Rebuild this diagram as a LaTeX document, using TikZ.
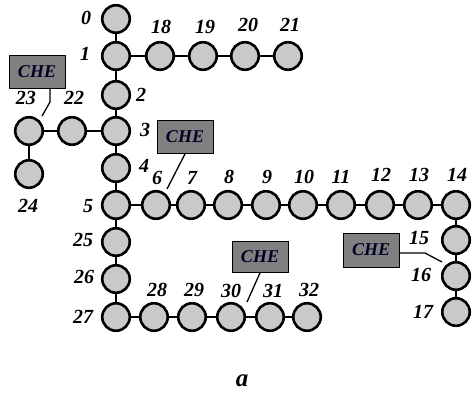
\documentclass[tikz,border=0pt]{standalone}
\usepackage{fontspec}
\setmainfont{Liberation Serif}
\begin{document}
\begin{tikzpicture}[x=1pt,y=-1pt,
  ball/.style={circle,draw=black,line width=2.6pt,fill=black!21,minimum size=27.5pt,inner sep=0pt},
  link/.style={line width=2.4pt},
  lab/.style={font=\fontsize{20}{20}\selectfont\bfseries\itshape,inner sep=0pt},
  che/.style={draw=black,line width=0.9pt,fill=black!50,minimum width=56pt,minimum height=33pt,inner sep=0pt,font=\fontsize{18}{18}\selectfont\bfseries\itshape,text=black!85!blue},
  ptr/.style={line width=1.3pt}]
\useasboundingbox (0,0) rectangle (473,394);
% column
\node[ball] (n0) at (116,19) {};
\node[ball] (n1) at (116,56) {};
\node[ball] (n2) at (116,95) {};
\node[ball] (n3) at (116,131) {};
\node[ball] (n4) at (116,168) {};
\node[ball] (n5) at (116,205) {};
\node[ball] (n25) at (116,242) {};
\node[ball] (n26) at (116,279) {};
\node[ball] (n27) at (116,317) {};
% top row
\node[ball] (n18) at (160,56) {};
\node[ball] (n19) at (203,56) {};
\node[ball] (n20) at (245,56) {};
\node[ball] (n21) at (288,56) {};
% left branch
\node[ball] (n22) at (72,131) {};
\node[ball] (n23) at (29,131) {};
\node[ball] (n24) at (29,174) {};
% middle row
\node[ball] (n6) at (156,205) {};
\node[ball] (n7) at (191,205) {};
\node[ball] (n8) at (228,205) {};
\node[ball] (n9) at (266,205) {};
\node[ball] (n10) at (303,205) {};
\node[ball] (n11) at (341,205) {};
\node[ball] (n12) at (380,205) {};
\node[ball] (n13) at (418,205) {};
\node[ball] (n14) at (456,205) {};
\node[ball] (n15) at (456,240) {};
\node[ball] (n16) at (456,276) {};
\node[ball] (n17) at (456,312) {};
% bottom row
\node[ball] (n28) at (154,317) {};
\node[ball] (n29) at (192,317) {};
\node[ball] (n30) at (231,317) {};
\node[ball] (n31) at (270,317) {};
\node[ball] (n32) at (307,317) {};
% connectors
\draw[link] (n0)--(n1) (n1)--(n2) (n2)--(n3) (n3)--(n4) (n4)--(n5) (n5)--(n25) (n25)--(n26) (n26)--(n27);
\draw[link] (n1)--(n18) (n18)--(n19) (n19)--(n20) (n20)--(n21);
\draw[link] (n3)--(n22) (n22)--(n23) (n23)--(n24);
\draw[link] (n5)--(n6) (n6)--(n7) (n7)--(n8) (n8)--(n9) (n9)--(n10) (n10)--(n11) (n11)--(n12) (n12)--(n13) (n13)--(n14);
\draw[link] (n14)--(n15) (n15)--(n16) (n16)--(n17);
\draw[link] (n27)--(n28) (n28)--(n29) (n29)--(n30) (n30)--(n31) (n31)--(n32);
% labels
\node[lab] (l0) at (86,18) {0};
\node[lab] (l1) at (85,54) {1};
\node[lab] (l2) at (141,95) {2};
\node[lab] (l3) at (145,130) {3};
\node[lab] (l4) at (144,166) {4};
\node[lab] (l5) at (88,206) {5};
\node[lab] (l6) at (157,178) {6};
\node[lab] (l7) at (192,178) {7};
\node[lab] (l8) at (229,177) {8};
\node[lab] (l9) at (267,177) {9};
\node[lab] (l10) at (304,177) {10};
\node[lab] (l11) at (341,177) {11};
\node[lab] (l12) at (381,175) {12};
\node[lab] (l13) at (419,175) {13};
\node[lab] (l14) at (457,175) {14};
\node[lab] (l15) at (419,238) {15};
\node[lab] (l16) at (421,275) {16};
\node[lab] (l17) at (423,312) {17};
\node[lab] (l18) at (161,27) {18};
\node[lab] (l19) at (205,27) {19};
\node[lab] (l20) at (248,25) {20};
\node[lab] (l21) at (290,25) {21};
\node[lab] (l22) at (74,98) {22};
\node[lab] (l23) at (26,98) {23};
\node[lab] (l24) at (28,206) {24};
\node[lab] (l25) at (83,240) {25};
\node[lab] (l26) at (84,277) {26};
\node[lab] (l27) at (83,317) {27};
\node[lab] (l28) at (157,290) {28};
\node[lab] (l29) at (194,290) {29};
\node[lab] (l30) at (231,291) {30};
\node[lab] (l31) at (273,291) {31};
\node[lab] (l32) at (309,290) {32};
\node[lab,font=\fontsize{25}{25}\selectfont\bfseries\itshape] (la) at (242,381) {a};
% CHE boxes
\node[che] (c1) at (37,72) {CHE};
\node[che] (c2) at (185,137) {CHE};
\node[che,minimum height=31pt] (c3) at (260,257) {CHE};
\node[che,minimum height=34pt] (c4) at (371,250) {CHE};
\coordinate (p1a) at (50,88.5);
\coordinate (p1b) at (50,102);
\coordinate (p1c) at (42,116);
\draw[ptr] (p1a)--(p1b)--(p1c);
\coordinate (p2) at (167,189);
\draw[ptr] (c2.south)--(p2);
\coordinate (p3) at (247,302);
\draw[ptr] (c3.south)--(p3);
\coordinate (p4a) at (400,253);
\coordinate (p4b) at (425,253);
\coordinate (p4c) at (442,262);
\draw[ptr] (p4a)--(p4b)--(p4c);
\end{tikzpicture}
\end{document}
